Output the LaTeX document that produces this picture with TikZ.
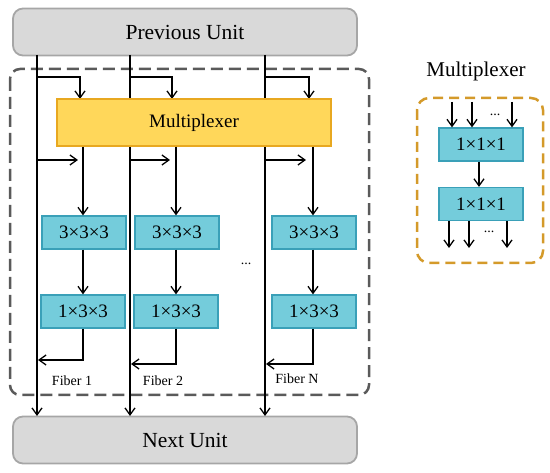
\documentclass[tikz,border=0pt]{standalone}
\usepackage{fontspec}
\setmainfont{Liberation Serif}
\usetikzlibrary{arrows.meta}
\definecolor{unitfill}{HTML}{D9D9D9}
\definecolor{unitdraw}{HTML}{A6A6A6}
\definecolor{cyanfill}{HTML}{74CCDB}
\definecolor{cyandraw}{HTML}{3AA0B8}
\definecolor{muxfill}{HTML}{FFD75A}
\definecolor{muxdraw}{HTML}{E8A820}
\definecolor{outerdash}{HTML}{5A5A5A}
\definecolor{golddash}{HTML}{D49A2A}
\begin{document}
\begin{tikzpicture}[x=1pt,y=-1pt,
  unitbox/.style={draw=unitdraw,fill=unitfill,line width=1.8pt,rounded corners=10pt,minimum width=344pt,minimum height=47pt,inner sep=0pt,font=\fontsize{21.5}{24}\selectfont},
  convbox/.style={draw=cyandraw,fill=cyanfill,line width=1.2pt,minimum width=84pt,minimum height=33pt,inner sep=0pt,font=\fontsize{19}{22}\selectfont},
  muxbox/.style={draw=muxdraw,fill=muxfill,line width=1.2pt,minimum width=274pt,minimum height=47pt,inner sep=0pt,font=\fontsize{19}{22}\selectfont},
  ln/.style={line width=1.3pt,black},
  arr/.style={ln,-{Straight Barb[length=7pt,width=10pt,line width=1.3pt]}},
  fiberlbl/.style={font=\fontsize{14}{16}\selectfont,inner sep=0pt},
  dotlbl/.style={font=\fontsize{14}{16}\selectfont,inner sep=0pt}
]
\useasboundingbox (0,0) rectangle (550,473);
% outer dashed container
\draw[outerdash,line width=2.5pt,dash pattern=on 12pt off 6pt,rounded corners=10pt] (10,69) rectangle (369,395);
% units
\node[unitbox] (prev) at (185,32) {Previous Unit};
\node[unitbox] (next) at (185,440) {Next Unit};
% skip line coordinates
\coordinate (s1t) at (37,55); \coordinate (s1b) at (37,416);
\coordinate (s2t) at (130,55); \coordinate (s2b) at (130,416);
\coordinate (s3t) at (265,55); \coordinate (s3b) at (265,416);
\draw[arr] (s1t) -- (s1b);
\draw[arr] (s2t) -- (s2b);
\draw[arr] (s3t) -- (s3b);
% branches into multiplexer
\coordinate (b1) at (37,77); \coordinate (b1m) at (80,99);
\coordinate (b2) at (130,77); \coordinate (b2m) at (172,99);
\coordinate (b3) at (265,77); \coordinate (b3m) at (309,99);
\draw[arr] (b1) -| (b1m);
\draw[arr] (b2) -| (b2m);
\draw[arr] (b3) -| (b3m);
% multiplexer
\node[muxbox] (mux) at (194,122.5) {Multiplexer};
% conv boxes
\node[convbox] (c1a) at (84,232.5) {3×3×3};
\node[convbox] (c2a) at (177,232.5) {3×3×3};
\node[convbox] (c3a) at (314,232.5) {3×3×3};
\node[convbox] (c1b) at (83,311.5) {1×3×3};
\node[convbox] (c2b) at (176,311.5) {1×3×3};
\node[convbox] (c3b) at (314,311.5) {1×3×3};
\node[dotlbl] (dots) at (246,264) {...};
% mux to conv
\coordinate (v1) at (83,0); \coordinate (v2) at (176,0); \coordinate (v3) at (313,0);
\draw[arr] (mux.south -| v1) -- (c1a.north -| v1);
\draw[arr] (mux.south -| v2) -- (c2a.north -| v2);
\draw[arr] (mux.south -| v3) -- (c3a.north -| v3);
% side arrows from skip lines
\coordinate (h1s) at (37,160); \coordinate (h1e) at (78,160);
\coordinate (h2s) at (130,160); \coordinate (h2e) at (170,160);
\coordinate (h3s) at (265,160); \coordinate (h3e) at (306,160);
\draw[arr] (h1s) -- (h1e);
\draw[arr] (h2s) -- (h2e);
\draw[arr] (h3s) -- (h3e);
% conv a to conv b
\draw[arr] (c1a.south -| v1) -- (c1b.north -| v1);
\draw[arr] (c2a.south -| v2) -- (c2b.north -| v2);
\draw[arr] (c3a.south -| v3) -- (c3b.north -| v3);
% returns
\coordinate (r1) at (38,360); \coordinate (r2) at (131,364); \coordinate (r3) at (266,364);
\draw[arr] (c1b.south -| v1) |- (r1);
\draw[arr] (c2b.south -| v2) |- (r2);
\draw[arr] (c3b.south -| v3) |- (r3);
% fiber labels
\node[fiberlbl] (f1) at (72,381) {Fiber 1};
\node[fiberlbl] (f2) at (163,381) {Fiber 2};
\node[fiberlbl] (fn) at (297,379) {Fiber N};
% right side multiplexer detail
\node[font=\fontsize{21}{24}\selectfont,inner sep=0pt] (mtitle) at (476,71) {Multiplexer};
\draw[golddash,line width=2.5pt,dash pattern=on 10pt off 6pt,rounded corners=12pt] (417,98) rectangle (543,263);
\node[convbox] (m1) at (481,144.5) {1×1×1};
\node[convbox] (m2) at (481,204) {1×1×1};
\coordinate (i1) at (452,102); \coordinate (i2) at (472,102); \coordinate (i3) at (512,102);
\draw[arr] (i1) -- (i1 |- m1.north);
\draw[arr] (i2) -- (i2 |- m1.north);
\draw[arr] (i3) -- (i3 |- m1.north);
\node[dotlbl] (idots) at (495,115) {...};
\coordinate (mv) at (479,0);
\draw[arr] (m1.south -| mv) -- (m2.north -| mv);
\coordinate (o1) at (449,248); \coordinate (o2) at (469,248); \coordinate (o3) at (507,248);
\draw[arr] (m2.south -| o1) -- (o1);
\draw[arr] (m2.south -| o2) -- (o2);
\draw[arr] (m2.south -| o3) -- (o3);
\node[dotlbl] (odots) at (489,232) {...};
\end{tikzpicture}
\end{document}
